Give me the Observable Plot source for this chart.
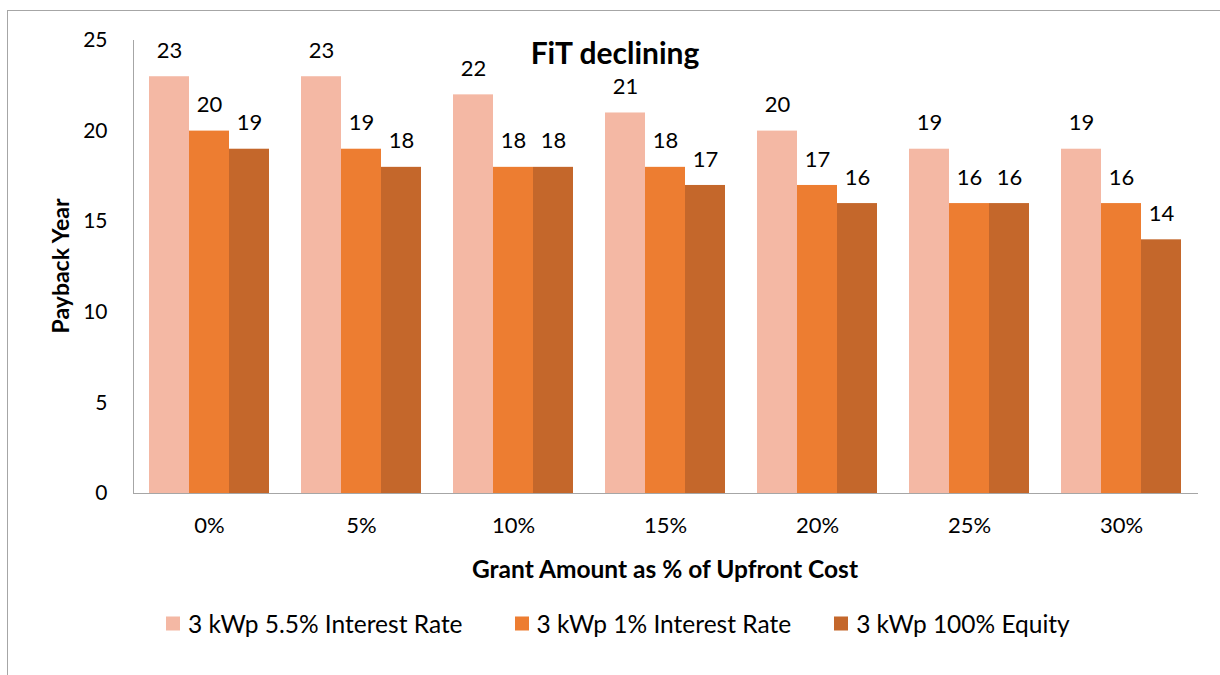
<!DOCTYPE html>
<html><head><meta charset="utf-8">
<script src="https://cdn.jsdelivr.net/npm/d3@7"></script>
<script src="https://cdn.jsdelivr.net/npm/@observablehq/plot@0.6"></script>
<style>
body{margin:0;background:#fff;overflow:hidden;width:1220px;height:675px;position:relative;font-family:Lato,"Open Sans",sans-serif;color:#000;}
#border{position:absolute;left:7px;top:10px;width:1300px;height:800px;border:1px solid #a6a6a6;}
#chart{position:absolute;left:0;top:0;}
#title{position:absolute;left:0;width:1230px;top:36px;text-align:center;font-weight:bold;font-size:30px;line-height:32px;}
#ylabel{position:absolute;left:60px;top:266px;transform:translate(-50%,-50%) rotate(-90deg);font-weight:bold;font-size:23px;white-space:nowrap;}
#xlabel{position:absolute;left:665px;top:568px;transform:translate(-50%,-50%);font-weight:bold;font-size:24.5px;white-space:nowrap;}
#legend{position:absolute;left:166px;top:623px;transform:translateY(-50%);display:flex;align-items:center;font-size:24.5px;white-space:nowrap;}
.item{display:flex;align-items:center;margin-right:52px;}
.item:nth-child(2){margin-right:43px;}
.sw{width:14px;height:14px;margin-right:8px;}
</style></head>
<body>
<div id="border"></div>
<div id="chart"></div>
<div id="title">FiT declining</div>
<div id="ylabel">Payback Year</div>
<div id="xlabel">Grant Amount as % of Upfront Cost</div>
<div id="legend"></div>
<script>
const grants = ["0%","5%","10%","15%","20%","25%","30%"];
const series = ["3 kWp 5.5% Interest Rate","3 kWp 1% Interest Rate","3 kWp 100% Equity"];
const rate55 = [23,23,22,21,20,19,19];
const rate1 = [20,19,18,18,17,16,16];
const equity = [19,18,18,17,16,16,14];
const yTicks = [0,5,10,15,20,25];
const colors = ["#F4B8A4","#ED7D31","#C4672B"];

const valuesBySeries = [rate55, rate1, equity];
const data = [];
grants.forEach((g,i)=>series.forEach((s,j)=>data.push({grant:g, series:s, value:valuesBySeries[j][i]})));

const chart = Plot.plot({
  width:1220, height:580,
  marginTop:40, marginBottom:87, marginLeft:133, marginRight:23,
  style:{fontFamily:'Lato,"Open Sans",sans-serif', color:"#000", background:"transparent"},
  fx:{domain:grants, padding:0, label:null},
  x:{domain:series, axis:null, paddingInner:0, paddingOuter:0.375},
  y:{domain:[0,25], axis:null},
  color:{domain:series, range:colors},
  marks:[
    Plot.barY(data,{fx:"grant", x:"series", y:"value", fill:"series"}),
    Plot.text(data,{fx:"grant", x:"series", y:"value", text:d=>String(d.value), dy:-26, fontSize:22, fill:"#000"}),
    Plot.axisY({ticks:yTicks, tickSize:0, tickPadding:26, fontSize:21, label:null, fill:"#000"}),
    Plot.axisFx({anchor:"bottom", tickSize:0, tickPadding:24, fontSize:22, label:null, fill:"#000"}),
    Plot.frame({anchor:"left", facet:"super", stroke:"#a6a6a6"}),
    Plot.frame({anchor:"bottom", facet:"super", stroke:"#a6a6a6"})
  ]
});
document.getElementById("chart").appendChild(chart);

const lg = document.getElementById("legend");
series.forEach((s,i)=>{
  const it = document.createElement("div"); it.className="item";
  const sw = document.createElement("div"); sw.className="sw"; sw.style.background=colors[i];
  const t = document.createElement("span"); t.textContent=s;
  it.appendChild(sw); it.appendChild(t); lg.appendChild(it);
});
</script>
</body></html>
